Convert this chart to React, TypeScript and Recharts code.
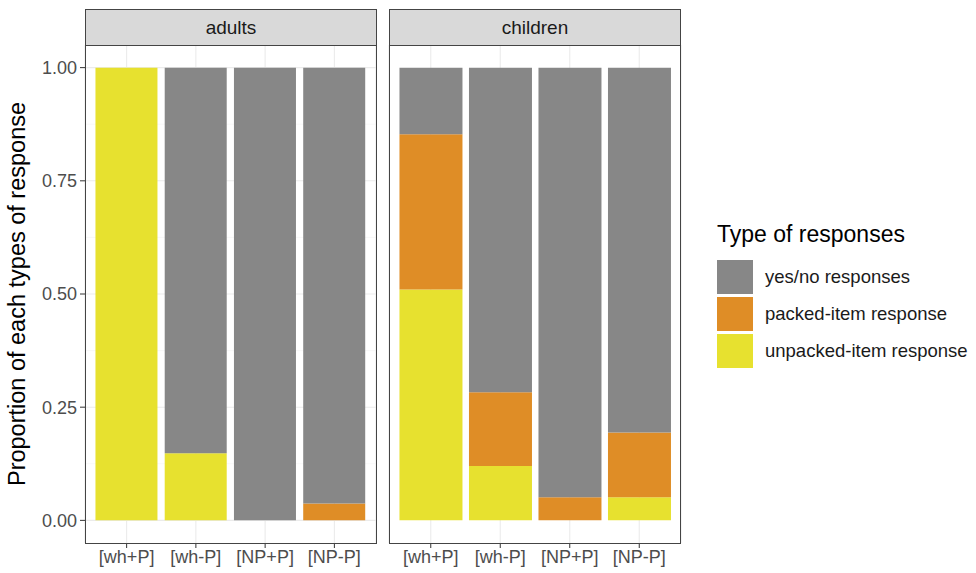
import { BarChart, Bar, XAxis, YAxis, CartesianGrid } from 'recharts';

const categories = ['[wh+P]', '[wh-P]', '[NP+P]', '[NP-P]'];

const adultsUnpacked = [1.0, 0.148, 0, 0];
const adultsPacked = [0, 0, 0, 0.037];
const adultsYesNo = [0, 0.852, 1.0, 0.963];

const childrenUnpacked = [0.51, 0.12, 0, 0.051];
const childrenPacked = [0.343, 0.163, 0.051, 0.143];
const childrenYesNo = [0.147, 0.717, 0.949, 0.806];

const majorTicks = [0, 0.25, 0.5, 0.75, 1];
const minorTicks = [0.125, 0.375, 0.625, 0.875];

const seriesNames = ['yes/no responses', 'packed-item response', 'unpacked-item response'];
const colors = { yesno: '#878787', packed: '#DF8D26', unpacked: '#E7E12F' };

const font = '"Liberation Sans", Arial, sans-serif';

const build = (unpacked: number[], packed: number[], yesno: number[]) =>
  categories.map((c, i) => ({ cat: c, unpacked: unpacked[i], packed: packed[i], yesno: yesno[i] }));

const adultsData = build(adultsUnpacked, adultsPacked, adultsYesNo);
const childrenData = build(childrenUnpacked, childrenPacked, childrenYesNo);

const YTitle = (props: any) => {
  const vb = props.viewBox;
  const cy = vb.y + vb.height / 2;
  return (
    <text x={25} y={cy} transform={`rotate(-90, 25, ${cy})`} textAnchor="middle" fontSize={23.5} fill="#000" fontFamily={font}>
      Proportion of each types of response
    </text>
  );
};

function Panel({ data, showY }: { data: any[]; showY: boolean }) {
  const left = showY ? 0 : 4;
  return (
    <BarChart
      width={showY ? 380 : 300}
      height={573}
      data={data}
      margin={{ top: 45, right: 4, bottom: 0, left }}
      barCategoryGap="5%"
      style={{ fontFamily: font }}
    >
      <CartesianGrid horizontalValues={minorTicks} vertical={false} stroke="#f4f4f4" strokeWidth={0.6} />
      <CartesianGrid horizontalValues={majorTicks} stroke="#ebebeb" strokeWidth={1.1} />
      <XAxis
        dataKey="cat"
        padding={{ left: 7, right: 7 }}
        axisLine={false}
        tickLine={{ stroke: '#333' }}
        tickSize={5}
        tickMargin={2}
        height={30}
        tick={{ fill: '#4d4d4d', fontSize: 18 }}
        interval={0}
      />
      <YAxis
        type="number"
        domain={[-0.05, 1.05]}
        ticks={majorTicks}
        allowDataOverflow
        width={showY ? 85 : 0}
        axisLine={false}
        tick={showY ? { fill: '#4d4d4d', fontSize: 18 } : false}
        tickLine={showY ? { stroke: '#333' } : false}
        tickSize={5}
        tickMargin={3}
        tickFormatter={(v: number) => v.toFixed(2)}
        label={showY ? <YTitle /> : undefined}
      />
      <Bar dataKey="unpacked" stackId="a" fill={colors.unpacked} isAnimationActive={false} name={seriesNames[2]} />
      <Bar dataKey="packed" stackId="a" fill={colors.packed} isAnimationActive={false} name={seriesNames[1]} />
      <Bar dataKey="yesno" stackId="a" fill={colors.yesno} isAnimationActive={false} name={seriesNames[0]} />
    </BarChart>
  );
}

const Strip = ({ left, text }: { left: number; text: string }) => (
  <>
    <div
      style={{
        position: 'absolute', left, top: 9, width: 292, height: 37, boxSizing: 'border-box',
        background: '#d9d9d9', border: '1px solid #444', display: 'flex', alignItems: 'center',
        justifyContent: 'center', fontSize: 19, color: '#1a1a1a', fontFamily: font,
      }}
    >
      {text}
    </div>
    <div
      style={{
        position: 'absolute', left, top: 45, width: 292, height: 499, boxSizing: 'border-box',
        border: '1px solid #444', pointerEvents: 'none',
      }}
    />
  </>
);

export default function App() {
  const legendItems = [
    { name: seriesNames[0], color: colors.yesno },
    { name: seriesNames[1], color: colors.packed },
    { name: seriesNames[2], color: colors.unpacked },
  ];
  return (
    <div style={{ position: 'absolute', left: 0, top: 0, width: 976, height: 573, background: '#fff', fontFamily: font }}>
      <div style={{ position: 'absolute', left: 0, top: 0 }}>
        <Panel data={adultsData} showY />
      </div>
      <div style={{ position: 'absolute', left: 385, top: 0 }}>
        <Panel data={childrenData} showY={false} />
      </div>
      <Strip left={85} text="adults" />
      <Strip left={389} text="children" />
      <div style={{ position: 'absolute', left: 717, top: 220 }}>
        <div style={{ fontSize: 23, color: '#000', lineHeight: '28px', marginBottom: 10 }}>Type of responses</div>
        {legendItems.map((it) => (
          <div key={it.name} style={{ display: 'flex', alignItems: 'center', height: 37 }}>
            <div style={{ width: 36, height: 34, background: it.color, marginRight: 12 }} />
            <span style={{ fontSize: 18.5, color: '#1a1a1a' }}>{it.name}</span>
          </div>
        ))}
      </div>
    </div>
  );
}
